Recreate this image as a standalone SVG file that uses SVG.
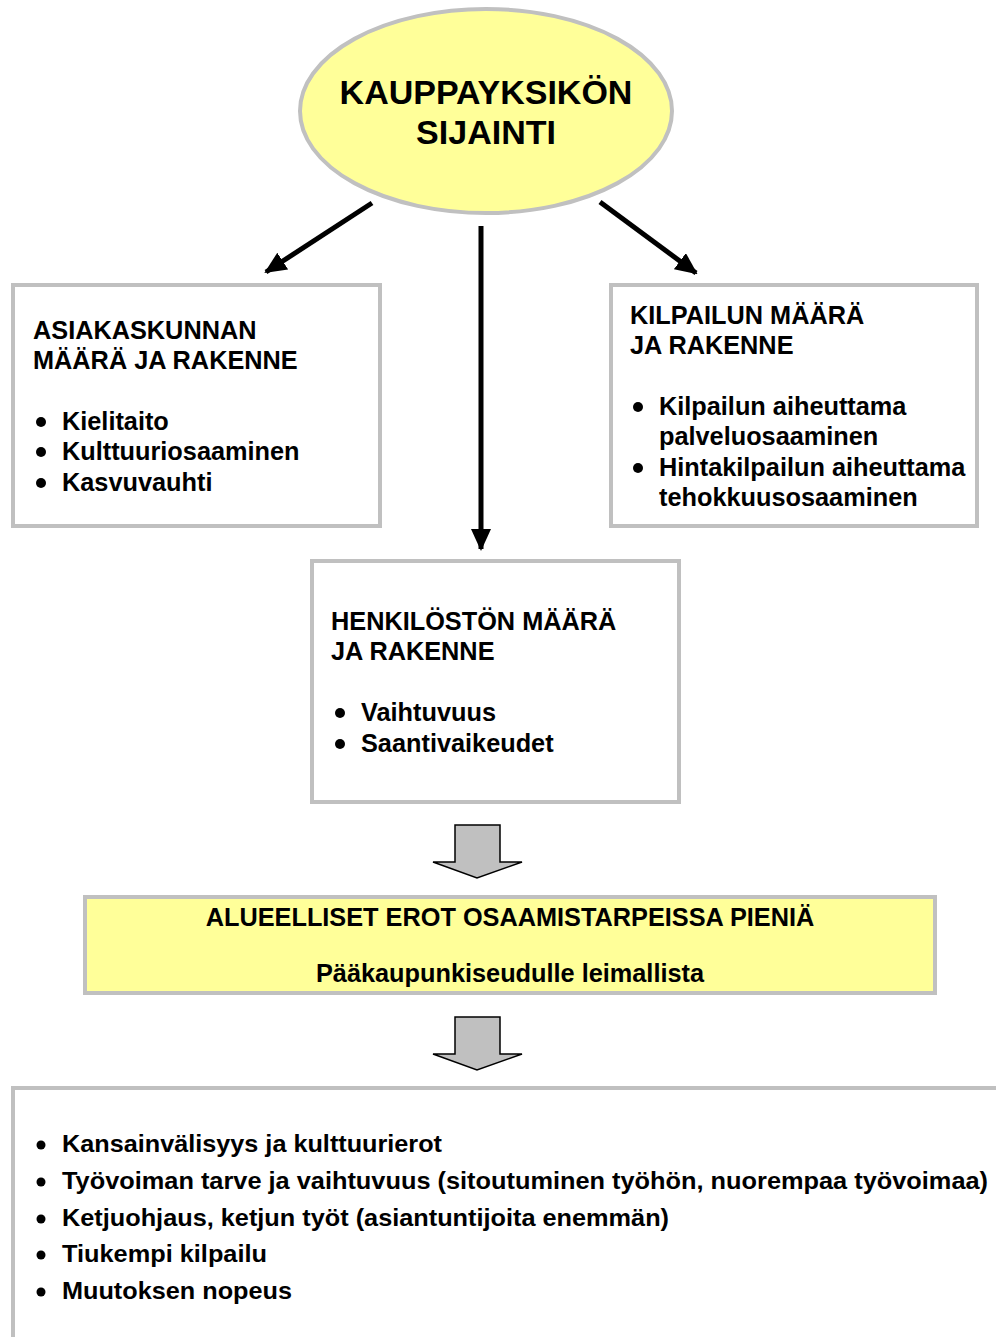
<svg xmlns="http://www.w3.org/2000/svg" width="996" height="1337" viewBox="0 0 996 1337">
  <style>
    .box { fill: #ffffff; stroke: #c0c0c0; stroke-width: 4; }
    .hl { fill: #ffff99; stroke: #c0c0c0; stroke-width: 4; }
    .t { font-family: "Liberation Sans", Arial, sans-serif; font-weight: bold; fill: #000; }
    .h { font-size: 25.3px; }
    .title { font-size: 34px; }
    .low { font-size: 24px; }
    .conn { stroke: #000; stroke-width: 5; fill: none; }
    .block { fill: #c0c0c0; stroke: #000; stroke-width: 1.5; stroke-linejoin: miter; }
    .dot { fill: #000; }
  </style>
  <defs>
    <marker id="head" viewBox="0 0 22 20" refX="20" refY="10" markerWidth="22" markerHeight="20" markerUnits="userSpaceOnUse" orient="auto">
      <path d="M0,0 L22,10 L0,20 Z" fill="#000"/>
    </marker>
  </defs>

  <!-- central location ellipse -->
  <g id="sijainti">
    <ellipse class="hl" cx="486" cy="111" rx="186" ry="102"/>
    <text class="t title" x="486" y="104" text-anchor="middle">KAUPPAYKSIKÖN</text>
    <text class="t title" x="486" y="144" text-anchor="middle">SIJAINTI</text>
  </g>

  <!-- connectors -->
  <g id="connectors">
    <line class="conn" x1="372" y1="203" x2="266" y2="272" marker-end="url(#head)"/>
    <line class="conn" x1="481" y1="226" x2="481" y2="549" marker-end="url(#head)"/>
    <line class="conn" x1="600" y1="202" x2="696" y2="273" marker-end="url(#head)"/>
    <path class="block" d="M455,825 L500,825 L500,862 L522,862 L477,878 L433,862 L455,862 Z"/>
    <path class="block" d="M455,1017 L500,1017 L500,1054 L522,1054 L477,1070 L433,1054 L455,1054 Z"/>
  </g>

  <!-- customer base -->
  <g id="asiakaskunta">
    <rect class="box" x="13" y="285" width="367" height="241"/>
    <text class="t h" x="33" y="339">ASIAKASKUNNAN</text>
    <text class="t h" x="33" y="369">MÄÄRÄ JA RAKENNE</text>
    <circle class="dot" cx="41" cy="422" r="5"/>
    <text class="t h" x="62" y="430">Kielitaito</text>
    <circle class="dot" cx="41" cy="452" r="5"/>
    <text class="t h" x="62" y="460">Kulttuuriosaaminen</text>
    <circle class="dot" cx="41" cy="483" r="5"/>
    <text class="t h" x="62" y="491">Kasvuvauhti</text>
  </g>

  <!-- competition -->
  <g id="kilpailu">
    <rect class="box" x="611" y="285" width="366" height="241"/>
    <text class="t h" x="630" y="324">KILPAILUN MÄÄRÄ</text>
    <text class="t h" x="630" y="354">JA RAKENNE</text>
    <circle class="dot" cx="638" cy="407" r="5"/>
    <text class="t h" x="659" y="415">Kilpailun aiheuttama</text>
    <text class="t h" x="659" y="445">palveluosaaminen</text>
    <circle class="dot" cx="638" cy="468" r="5"/>
    <text class="t h" x="659" y="476">Hintakilpailun aiheuttama</text>
    <text class="t h" x="659" y="506">tehokkuusosaaminen</text>
  </g>

  <!-- staff -->
  <g id="henkilosto">
    <rect class="box" x="312" y="561" width="367" height="241"/>
    <text class="t h" x="331" y="630">HENKILÖSTÖN MÄÄRÄ</text>
    <text class="t h" x="331" y="660">JA RAKENNE</text>
    <circle class="dot" cx="340" cy="713" r="5"/>
    <text class="t h" x="361" y="721">Vaihtuvuus</text>
    <circle class="dot" cx="340" cy="744" r="5"/>
    <text class="t h" x="361" y="752">Saantivaikeudet</text>
  </g>

  <!-- regional differences -->
  <g id="alueelliset">
    <rect class="hl" x="85" y="897" width="850" height="96"/>
    <text class="t h" x="510" y="926" text-anchor="middle">ALUEELLISET EROT OSAAMISTARPEISSA PIENIÄ</text>
    <text class="t h" x="510" y="982" text-anchor="middle">Pääkaupunkiseudulle leimallista</text>
  </g>

  <!-- capital region specifics -->
  <g id="paakaupunkiseutu">
    <rect class="box" x="13" y="1088" width="1000" height="300"/>
    <circle class="dot" cx="41" cy="1145" r="4.5"/>
    <text class="t low" x="62" y="1152" textLength="380" lengthAdjust="spacingAndGlyphs">Kansainvälisyys ja kulttuurierot</text>
    <circle class="dot" cx="41" cy="1182" r="4.5"/>
    <text class="t low" x="62" y="1189" textLength="926" lengthAdjust="spacingAndGlyphs">Työvoiman tarve ja vaihtuvuus (sitoutuminen työhön, nuorempaa työvoimaa)</text>
    <circle class="dot" cx="41" cy="1219" r="4.5"/>
    <text class="t low" x="62" y="1226" textLength="607" lengthAdjust="spacingAndGlyphs">Ketjuohjaus, ketjun työt (asiantuntijoita enemmän)</text>
    <circle class="dot" cx="41" cy="1255" r="4.5"/>
    <text class="t low" x="62" y="1262" textLength="205" lengthAdjust="spacingAndGlyphs">Tiukempi kilpailu</text>
    <circle class="dot" cx="41" cy="1292" r="4.5"/>
    <text class="t low" x="62" y="1299" textLength="230" lengthAdjust="spacingAndGlyphs">Muutoksen nopeus</text>
  </g>
</svg>
